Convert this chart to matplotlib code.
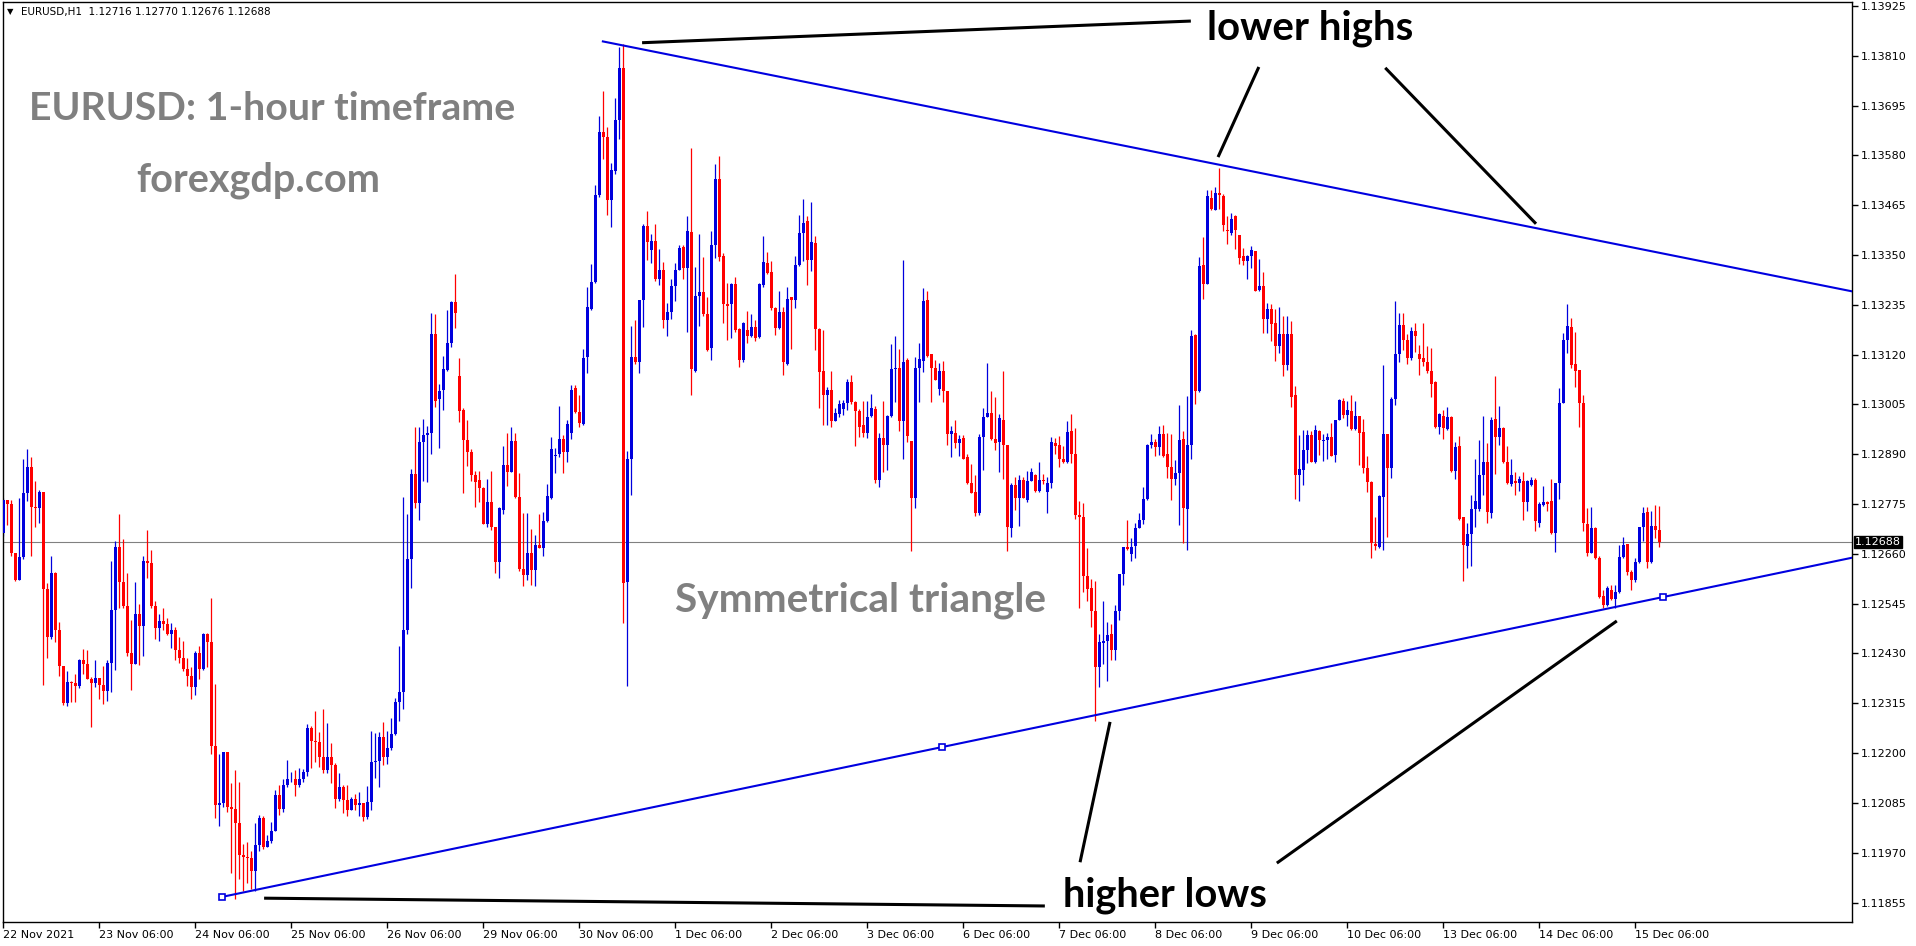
import matplotlib
matplotlib.use("Agg")
import numpy as np
from matplotlib import pyplot as plt

W, H = 1916, 946

# EURUSD H1 candles, prices in points (1e-5), bar 0 = 22 Nov 06:00
opens = [
    112707, 112785, 112775, 112663, 112600, 112653, 112800, 112861, 112767, 112766,
    112803, 112578, 112467, 112616, 112484, 112400, 112316, 112364, 112361, 112354,
    112416, 112405, 112372, 112362, 112374, 112358, 112343, 112409, 112530, 112675,
    112594, 112539, 112432, 112406, 112520, 112493, 112643, 112639, 112540, 112488,
    112505, 112498, 112474, 112484, 112438, 112420, 112394, 112377, 112353, 112430,
    112394, 112474, 112457, 112216, 112080, 112085, 112202, 112075, 112070, 112038,
    111965, 111959, 111957, 111927, 111988, 112049, 111983, 111998, 112020, 112103,
    112072, 112127, 112139, 112141, 112126, 112139, 112156, 112257, 112229, 112226,
    112192, 112160, 112192, 112173, 112095, 112122, 112092, 112069, 112095, 112080,
    112085, 112053, 112088, 112179, 112181, 112238, 112190, 112211, 112243, 112318,
    112341, 112483, 112649, 112845, 112778, 112919, 112934, 112940, 113168, 113017,
    113039, 113084, 113146, 113242, 113070, 112993, 112922, 112895, 112842, 112831,
    112813, 112728, 112780, 112723, 112641, 112761, 112864, 112849, 112921, 112792,
    112625, 112610, 112663, 112622, 112680, 112674, 112735, 112790, 112885, 112891,
    112924, 112895, 112940, 113043, 112988, 112960, 113115, 113225, 113287, 113488,
    113633, 113623, 113478, 113543, 113661, 113782, 112594, 112878, 113115, 113104,
    113246, 113416, 113362, 113383, 113295, 113316, 113200, 113218, 113278, 113316,
    113369, 113321, 113403, 113081, 113256, 113264, 113213, 113135, 113372, 113525,
    113347, 113236, 113236, 113282, 113179, 113108, 113177, 113163, 113184, 113161,
    113280, 113331, 113311, 113228, 113182, 113218, 113099, 113252, 113246, 113326,
    113400, 113429, 113339, 113378, 113179, 113081, 113027, 113039, 112967, 112982,
    112995, 113008, 113056, 113011, 112989, 112958, 112940, 112978, 112995, 112830,
    112927, 112912, 112978, 113086, 113088, 112967, 113108, 112920, 112790, 113090,
    113105, 113247, 113121, 113090, 113040, 113081, 113035, 112936, 112940, 112915,
    112927, 112883, 112823, 112803, 112754, 112929, 112975, 112984, 112924, 112918,
    112968, 112912, 112719, 112819, 112788, 112831, 112785, 112828, 112843, 112806,
    112831, 112803, 112823, 112915, 112911, 112880, 112871, 112944, 112890, 112750,
    112746, 112609, 112580, 112527, 112399, 112454, 112458, 112474, 112438, 112527,
    112613, 112675, 112660, 112678, 112719, 112739, 112787, 112912, 112918, 112906,
    112936, 112890, 112861, 112832, 112847, 112924, 112763, 112912, 113165, 113037,
    113327, 113283, 113482, 113454, 113492, 113486, 113407, 113401, 113439, 113397,
    113347, 113337, 113347, 113358, 113268, 113279, 113203, 113225, 113193, 113139,
    113168, 113095, 113167, 113027, 112841, 112854, 112900, 112935, 112873, 112944,
    112921, 112923, 112929, 112889, 112969, 113012, 112981, 112989, 112948, 112979,
    112941, 112858, 112826, 112683, 112675, 112792, 112937, 112858, 113017, 113122,
    113189, 113153, 113113, 113175, 113121, 113113, 113104, 113083, 113056, 112953,
    112979, 112948, 112975, 112852, 112909, 112745, 112679, 112705, 112763, 112763,
    112842, 112873, 112754, 112971, 112929, 112950, 112873, 112822, 112827, 112823,
    112827, 112779, 112819, 112831, 112732, 112773, 112779, 112782, 112708, 112823,
    113009, 113154, 113183, 113098, 113085, 113008, 112729, 112663, 112719, 112650,
    112562, 112542, 112577, 112555, 112571, 112652, 112682, 112618, 112600, 112640,
    112723, 112756, 112642, 112725, 112716,
]
highs = [
    112790, 112782, 112785, 112663, 112790, 112880, 112902, 112884, 112827, 112807,
    112803, 112593, 112656, 112619, 112503, 112400, 112389, 112367, 112382, 112418,
    112441, 112438, 112375, 112416, 112374, 112401, 112416, 112644, 112690, 112753,
    112695, 112615, 112508, 112595, 112544, 112656, 112716, 112668, 112550, 112521,
    112534, 112511, 112501, 112491, 112469, 112459, 112420, 112399, 112435, 112448,
    112477, 112477, 112557, 112360, 112197, 112202, 112192, 112131, 112160, 112134,
    111990, 111995, 111975, 112038, 112056, 112054, 112012, 112041, 112114, 112127,
    112139, 112184, 112156, 112160, 112165, 112163, 112267, 112263, 112296, 112248,
    112301, 112270, 112224, 112177, 112155, 112126, 112127, 112098, 112105, 112111,
    112078, 112124, 112250, 112247, 112248, 112272, 112252, 112281, 112328, 112447,
    112792, 112751, 112855, 112953, 112953, 112972, 112955, 113215, 113213, 113053,
    113117, 113223, 113244, 113305, 113113, 112996, 112970, 112901, 112852, 112852,
    112814, 112833, 112852, 112723, 112767, 112909, 112940, 112952, 112940, 112847,
    112754, 112754, 112718, 112704, 112751, 112757, 112821, 112929, 112905, 113001,
    112934, 112970, 113050, 113050, 113027, 113132, 113275, 113328, 113512, 113671,
    113728, 113646, 113563, 113713, 113831, 113836, 112898, 113187, 113200, 113246,
    113421, 113452, 113398, 113421, 113364, 113333, 113238, 113295, 113331, 113372,
    113372, 113439, 113597, 113323, 113398, 113345, 113254, 113405, 113560, 113579,
    113354, 113285, 113285, 113298, 113182, 113195, 113221, 113213, 113200, 113285,
    113393, 113357, 113336, 113230, 113267, 113230, 113275, 113254, 113347, 113443,
    113479, 113439, 113472, 113393, 113182, 113177, 113046, 113081, 112997, 113015,
    113015, 113064, 113073, 113013, 112995, 113012, 113012, 113028, 113002, 112938,
    113012, 112980, 113145, 113164, 113133, 113339, 113111, 112921, 113115, 113146,
    113274, 113267, 113121, 113108, 113101, 113105, 113037, 112955, 112968, 112934,
    112934, 112890, 112867, 112843, 112936, 112997, 113101, 113035, 113021, 112982,
    113081, 112912, 112823, 112837, 112843, 112837, 112852, 112858, 112845, 112871,
    112845, 112838, 112929, 112927, 112931, 112909, 112967, 112982, 112951, 112781,
    112778, 112673, 112603, 112598, 112476, 112550, 112503, 112498, 112542, 112613,
    112675, 112737, 112697, 112732, 112754, 112815, 112914, 112937, 112925, 112956,
    112958, 112938, 112937, 112876, 113004, 112944, 113024, 113177, 113167, 113345,
    113392, 113499, 113501, 113506, 113551, 113490, 113439, 113448, 113443, 113397,
    113366, 113350, 113371, 113358, 113341, 113310, 113239, 113237, 113225, 113231,
    113208, 113210, 113197, 113048, 112935, 112946, 112946, 112943, 112958, 112946,
    112936, 112939, 112962, 112969, 113017, 113019, 113012, 113027, 113012, 112979,
    112971, 112885, 112829, 112746, 112796, 113096, 112937, 113022, 113244, 113216,
    113217, 113167, 113183, 113193, 113143, 113193, 113139, 113135, 113058, 112986,
    112991, 112998, 112979, 112918, 112931, 112746, 112731, 112796, 112879, 112923,
    112979, 112917, 112977, 113071, 113002, 112953, 112909, 112879, 112850, 112840,
    112849, 112831, 112837, 112835, 112779, 112817, 112781, 112833, 112823, 113043,
    113170, 113237, 113204, 113171, 113085, 113026, 112765, 112769, 112722, 112654,
    112577, 112585, 112588, 112588, 112681, 112700, 112682, 112623, 112650, 112723,
    112769, 112769, 112758, 112773, 112770,
]
lows = [
    112702, 112727, 112654, 112598, 112600, 112649, 112782, 112654, 112721, 112731,
    112357, 112419, 112464, 112456, 112377, 112311, 112309, 112318, 112318, 112350,
    112382, 112370, 112260, 112352, 112325, 112314, 112321, 112340, 112391, 112536,
    112536, 112425, 112345, 112406, 112403, 112423, 112605, 112536, 112464, 112459,
    112484, 112472, 112443, 112416, 112408, 112389, 112354, 112325, 112333, 112370,
    112391, 112399, 112197, 112049, 112032, 112075, 112064, 111922, 111864, 111910,
    111881, 111900, 111886, 111881, 111975, 111978, 111983, 111993, 112019, 112056,
    112064, 112122, 112134, 112100, 112122, 112134, 112146, 112166, 112180, 112168,
    112153, 112153, 112132, 112073, 112090, 112061, 112054, 112069, 112069, 112054,
    112044, 112048, 112068, 112142, 112122, 112173, 112175, 112207, 112241, 112273,
    112301, 112476, 112581, 112766, 112739, 112828, 112826, 112890, 112998, 112905,
    112991, 113082, 113138, 113182, 112965, 112800, 112862, 112828, 112769, 112780,
    112728, 112723, 112716, 112615, 112605, 112751, 112816, 112849, 112788, 112620,
    112586, 112599, 112589, 112586, 112674, 112656, 112733, 112787, 112847, 112883,
    112847, 112873, 112924, 112986, 112952, 112957, 113077, 113223, 113285, 113484,
    113571, 113442, 113414, 113537, 113617, 112501, 112355, 112795, 113099, 113077,
    113184, 113338, 113331, 113290, 113280, 113182, 113163, 113202, 113244, 113316,
    113295, 113171, 113027, 113079, 113187, 113208, 113128, 113108, 113344, 113336,
    113194, 113153, 113159, 113171, 113091, 113104, 113146, 113161, 113151, 113158,
    113277, 113305, 113223, 113166, 113179, 113074, 113096, 113132, 113228, 113324,
    113336, 113280, 113313, 113130, 112996, 112958, 112958, 112952, 112967, 112975,
    112980, 112993, 113005, 112909, 112929, 112929, 112927, 112975, 112823, 112815,
    112850, 112854, 112975, 113011, 112944, 112880, 112918, 112666, 112765, 113011,
    113080, 113115, 113011, 113061, 113026, 113011, 112912, 112883, 112905, 112885,
    112878, 112821, 112801, 112748, 112750, 112853, 112978, 112922, 112900, 112850,
    112832, 112666, 112699, 112761, 112725, 112788, 112779, 112827, 112803, 112803,
    112821, 112754, 112812, 112891, 112861, 112869, 112869, 112869, 112741, 112534,
    112572, 112551, 112492, 112275, 112352, 112405, 112366, 112414, 112414, 112507,
    112589, 112669, 112644, 112651, 112719, 112728, 112785, 112905, 112885, 112889,
    112884, 112834, 112785, 112818, 112726, 112684, 112669, 112878, 113005, 113033,
    113249, 113283, 113454, 113453, 113455, 113406, 113376, 113395, 113364, 113330,
    113327, 113294, 113321, 113266, 113266, 113170, 113170, 113152, 113106, 113123,
    113070, 113085, 113000, 112786, 112783, 112818, 112869, 112871, 112869, 112889,
    112875, 112879, 112885, 112871, 112968, 112973, 112954, 112946, 112946, 112864,
    112846, 112802, 112650, 112669, 112673, 112668, 112700, 112835, 113003, 113104,
    113131, 113099, 113108, 113127, 113072, 113093, 113077, 113023, 112950, 112937,
    112925, 112946, 112849, 112833, 112739, 112598, 112627, 112631, 112723, 112760,
    112796, 112732, 112742, 112844, 112912, 112869, 112822, 112816, 112795, 112804,
    112737, 112760, 112816, 112712, 112723, 112771, 112758, 112706, 112664, 112786,
    113008, 113123, 113089, 113046, 112953, 112712, 112654, 112662, 112648, 112558,
    112535, 112540, 112554, 112535, 112569, 112650, 112612, 112577, 112596, 112639,
    112689, 112628, 112639, 112696, 112676,
]
closes = [
    112785, 112775, 112663, 112600, 112653, 112800, 112861, 112767, 112766, 112803,
    112578, 112467, 112616, 112484, 112400, 112316, 112364, 112361, 112354, 112416,
    112405, 112372, 112362, 112374, 112358, 112343, 112409, 112530, 112675, 112594,
    112539, 112432, 112406, 112520, 112493, 112643, 112639, 112540, 112488, 112505,
    112498, 112474, 112484, 112438, 112420, 112394, 112377, 112353, 112430, 112394,
    112474, 112457, 112216, 112080, 112085, 112202, 112075, 112070, 112038, 111965,
    111959, 111957, 111927, 111988, 112049, 111983, 111998, 112020, 112103, 112072,
    112127, 112139, 112141, 112126, 112139, 112156, 112257, 112229, 112226, 112192,
    112160, 112192, 112173, 112095, 112122, 112092, 112069, 112095, 112080, 112085,
    112053, 112088, 112179, 112181, 112238, 112190, 112211, 112243, 112318, 112341,
    112483, 112649, 112845, 112778, 112918, 112934, 112940, 113168, 113012, 113037,
    113086, 113146, 113242, 113215, 112989, 112922, 112895, 112842, 112826, 112811,
    112728, 112780, 112723, 112641, 112766, 112864, 112849, 112921, 112792, 112625,
    112610, 112663, 112622, 112680, 112674, 112735, 112793, 112901, 112888, 112924,
    112895, 112960, 113039, 112988, 112962, 113113, 113230, 113287, 113488, 113633,
    113623, 113478, 113545, 113661, 113782, 112592, 112878, 113115, 113104, 113246,
    113417, 113380, 113383, 113295, 113316, 113200, 113218, 113278, 113316, 113367,
    113321, 113406, 113086, 113256, 113264, 113213, 113130, 113372, 113525, 113345,
    113236, 113233, 113282, 113177, 113108, 113192, 113163, 113184, 113158, 113282,
    113333, 113308, 113228, 113182, 113218, 113102, 113249, 113246, 113326, 113400,
    113424, 113339, 113380, 113179, 113079, 113027, 113039, 112967, 112986, 113006,
    113008, 113056, 113011, 112989, 112952, 112940, 112975, 112997, 112830, 112927,
    112912, 112978, 113086, 113086, 112967, 113104, 112931, 112790, 113090, 113110,
    113243, 113117, 113090, 113061, 113083, 113035, 112936, 112943, 112915, 112925,
    112880, 112823, 112801, 112754, 112929, 112975, 112984, 112924, 112915, 112974,
    112912, 112722, 112819, 112788, 112831, 112788, 112828, 112849, 112806, 112830,
    112827, 112823, 112918, 112909, 112880, 112871, 112942, 112890, 112750, 112746,
    112609, 112578, 112527, 112399, 112456, 112458, 112472, 112438, 112527, 112613,
    112675, 112671, 112675, 112719, 112739, 112787, 112912, 112918, 112906, 112936,
    112887, 112861, 112832, 112847, 112922, 112765, 112912, 113164, 113037, 113324,
    113283, 113486, 113455, 113492, 113488, 113420, 113406, 113433, 113408, 113343,
    113337, 113348, 113362, 113266, 113279, 113203, 113225, 113190, 113139, 113168,
    113096, 113167, 113022, 112841, 112856, 112900, 112935, 112872, 112946, 112923,
    112922, 112929, 112886, 112969, 113016, 112981, 112991, 112948, 112979, 112939,
    112858, 112826, 112685, 112677, 112794, 112937, 112859, 113017, 113122, 113189,
    113153, 113113, 113175, 113162, 113110, 113104, 113083, 113053, 112953, 112983,
    112950, 112975, 112852, 112906, 112741, 112681, 112705, 112764, 112783, 112842,
    112873, 112756, 112969, 112929, 112950, 112873, 112823, 112842, 112823, 112832,
    112779, 112827, 112831, 112735, 112775, 112779, 112775, 112708, 112823, 113009,
    113154, 113185, 113095, 113083, 113008, 112731, 112663, 112719, 112650, 112560,
    112542, 112582, 112555, 112573, 112652, 112681, 112618, 112600, 112642, 112723,
    112754, 112642, 112725, 112715, 112688,
]

date_labels = [
    "22 Nov 2021", "23 Nov 06:00", "24 Nov 06:00", "25 Nov 06:00", "26 Nov 06:00",
    "29 Nov 06:00", "30 Nov 06:00", "1 Dec 06:00", "2 Dec 06:00", "3 Dec 06:00",
    "6 Dec 06:00", "7 Dec 06:00", "8 Dec 06:00", "9 Dec 06:00", "10 Dec 06:00",
    "13 Dec 06:00", "14 Dec 06:00", "15 Dec 06:00",
]
price_ticks = [
    1.11855, 1.11970, 1.12085, 1.12200, 1.12315, 1.12430, 1.12545, 1.12660, 1.12775,
    1.12890, 1.13005, 1.13120, 1.13235, 1.13350, 1.13465, 1.13580, 1.13695, 1.13810,
    1.13925,
]
last_price = 1.12688
header = "EURUSD,H1  1.12716 1.12770 1.12676 1.12688"

# trend lines as (bar, price) pairs
upper_line = [(149.9, 1.13843), (462.2, 1.13266)]
lower_line = [(54.7, 1.11868), (462.2, 1.12651)]
lower_anchors = [(54.7, 1.11868), (234.7, 1.12214), (414.9, 1.12560)]
pointer_lines = [
    [(159.7, 1.13840), (296.9, 1.13890)],
    [(313.9, 1.13784), (303.7, 1.13576)],
    [(345.5, 1.13782), (383.2, 1.13422)],
    [(65.2, 1.11865), (260.4, 1.11847)],
    [(269.2, 1.11948), (276.7, 1.12272)],
    [(318.4, 1.11946), (403.4, 1.12505)],
]

BULL = "#0000dd"
BEAR = "#ff0000"
LINE_BLUE = "#0000e0"
GRAY = "#808080"

o = np.array(opens) / 1e5
h = np.array(highs) / 1e5
l = np.array(lows) / 1e5
c = np.array(closes) / 1e5
h = np.maximum(h, np.maximum(o, c))
l = np.minimum(l, np.minimum(o, c))
x = np.arange(len(c))
colors = np.where(c >= o, BULL, BEAR)

fig = plt.figure(figsize=(W / 100, H / 100), dpi=100)
ax = fig.add_axes([3 / W, 24 / H, 1849 / W, 920 / H])
ax.set_xlim(-0.08, 462.2)
ax.set_ylim(1.11810, 1.13934)

ax.axhline(last_price, color=GRAY, lw=0.8, zorder=1)

# candles
ax.vlines(x, l, h, colors=colors, lw=0.9, zorder=2)
body = np.maximum(np.abs(c - o), 0.00002)
ax.bar(x, body, bottom=np.minimum(o, c), width=0.76, color=colors, lw=0, zorder=3)

# symmetrical triangle
ax.plot(*zip(*upper_line), color=LINE_BLUE, lw=1.5, zorder=4)
ax.plot(*zip(*lower_line), color=LINE_BLUE, lw=1.5, zorder=4)
ax.plot(*zip(*lower_anchors), ls="none", marker="s", ms=4, mfc="white",
        mec=LINE_BLUE, mew=1.2, zorder=5)
for seg in pointer_lines:
    ax.plot(*zip(*seg), color="black", lw=2.2, solid_capstyle="butt", zorder=5)

# axes cosmetics, MT4 style
for sp in ax.spines.values():
    sp.set_linewidth(1)
    sp.set_color("black")
ax.yaxis.tick_right()
ax.set_yticks(price_ticks)
ax.set_yticklabels([f"{p:.5f}" for p in price_ticks])
ax.set_xticks(np.arange(len(date_labels)) * 24)
ax.set_xticklabels(date_labels)
ax.tick_params(axis="both", direction="out", length=4, width=1, labelsize=8,
               colors="black", pad=2)
plt.setp(ax.get_xticklabels(), ha="left")
ax.text(1.0015, last_price, "1.12688", transform=ax.get_yaxis_transform(),
        ha="left", va="center", fontsize=8, color="white", zorder=10,
        bbox=dict(boxstyle="square,pad=0.1", fc="black", ec="black"))

fig.text(7 / W, 1 - 12 / H, "\u25bc", fontsize=6, va="center", ha="left")
fig.text(21 / W, 1 - 12 / H, header, fontsize=7.5, va="center", ha="left")

renderer = fig.canvas.get_renderer()


def label(px, py, s, width_px, color):
    t = fig.text(px / W, 1 - py / H, s, fontsize=20, fontweight="bold",
                 family="Lato", color=color, va="center", ha="left", zorder=20)
    bb = t.get_window_extent(renderer=renderer)
    t.set_fontsize(20 * width_px / bb.width)
    return t


label(29, 108, "EURUSD: 1-hour timeframe", 486, GRAY)
label(136, 180, "forexgdp.com", 244, GRAY)
label(675, 600, "Symmetrical triangle", 370, GRAY)
label(1207, 28, "lower highs", 206, "black")
label(1063, 895, "higher lows", 204, "black")

fig.savefig("out.png", dpi=100, facecolor="white")
